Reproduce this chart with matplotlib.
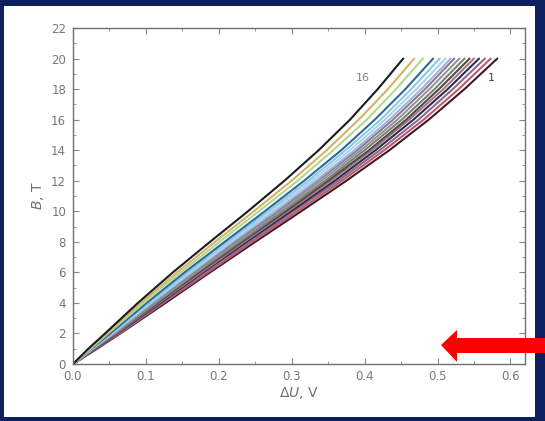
import matplotlib
matplotlib.use("Agg")
import matplotlib.pyplot as plt
from matplotlib.patches import Rectangle, Polygon
from matplotlib.ticker import MultipleLocator

# Magnetic induction levels (T)
B_levels = [0, 1, 2, 4, 6, 8, 10, 12, 14, 16, 18, 20]

# Voltage drop dU (V) for each curve at the B levels above
curve_1 = [0, 0.033, 0.065, 0.127, 0.188, 0.250, 0.313, 0.375, 0.434, 0.488, 0.537, 0.582]
curve_2 = [0, 0.032, 0.064, 0.124, 0.185, 0.246, 0.308, 0.369, 0.427, 0.481, 0.529, 0.573]
curve_3 = [0, 0.031, 0.062, 0.122, 0.181, 0.242, 0.303, 0.364, 0.421, 0.474, 0.521, 0.565]
curve_4 = [0, 0.031, 0.061, 0.120, 0.178, 0.238, 0.299, 0.359, 0.415, 0.467, 0.514, 0.557]
curve_5 = [0, 0.030, 0.060, 0.118, 0.176, 0.235, 0.295, 0.354, 0.410, 0.461, 0.508, 0.550]
curve_6 = [0, 0.030, 0.059, 0.116, 0.173, 0.232, 0.292, 0.350, 0.406, 0.457, 0.502, 0.544]
curve_7 = [0, 0.029, 0.058, 0.114, 0.170, 0.229, 0.288, 0.346, 0.400, 0.451, 0.496, 0.537]
curve_8 = [0, 0.028, 0.057, 0.112, 0.168, 0.225, 0.284, 0.341, 0.395, 0.445, 0.489, 0.530]
curve_9 = [0, 0.028, 0.056, 0.110, 0.165, 0.222, 0.280, 0.336, 0.390, 0.439, 0.483, 0.523]
curve_10 = [0, 0.027, 0.055, 0.108, 0.163, 0.219, 0.277, 0.333, 0.386, 0.434, 0.478, 0.518]
curve_11 = [0, 0.026, 0.053, 0.106, 0.160, 0.216, 0.273, 0.328, 0.380, 0.428, 0.471, 0.511]
curve_12 = [0, 0.026, 0.052, 0.104, 0.157, 0.212, 0.268, 0.323, 0.374, 0.422, 0.464, 0.503]
curve_13 = [0, 0.025, 0.051, 0.101, 0.153, 0.208, 0.263, 0.317, 0.368, 0.414, 0.456, 0.494]
curve_14 = [0, 0.024, 0.048, 0.097, 0.148, 0.201, 0.255, 0.308, 0.357, 0.403, 0.443, 0.480]
curve_15 = [0, 0.022, 0.046, 0.093, 0.143, 0.195, 0.248, 0.300, 0.348, 0.392, 0.432, 0.468]
curve_16 = [0, 0.021, 0.044, 0.089, 0.137, 0.188, 0.240, 0.290, 0.337, 0.380, 0.418, 0.453]

curves = [curve_1, curve_2, curve_3, curve_4, curve_5, curve_6, curve_7, curve_8,
          curve_9, curve_10, curve_11, curve_12, curve_13, curve_14, curve_15, curve_16]

colors = ['#3a1c2c', '#c25868', '#8c6a8c', '#2c2c4c', '#a87484', '#4c4c4c',
          '#7a8070', '#949494', '#8a7a9c', '#a4b4d4', '#acd4ec', '#8ec8e2',
          '#2a6a9a', '#b0d890', '#d4b464', '#1c1c1c']

x_ticks = [0.0, 0.1, 0.2, 0.3, 0.4, 0.5, 0.6]
x_tick_labels = ['0.0', '0.1', '0.2', '0.3', '0.4', '0.5', '0.6']
y_ticks = [0, 2, 4, 6, 8, 10, 12, 14, 16, 18, 20, 22]

W, H = 545, 421
fig = plt.figure(figsize=(W / 100, H / 100), dpi=100, facecolor='#0d1f5e')

# white panel (behind the axes)
fig.patches.append(Rectangle((4 / W, 1 - 417 / H), (535 - 4) / W, (417 - 6) / H,
                             transform=fig.transFigure, facecolor='white',
                             edgecolor='none', zorder=-10))

ax = fig.add_axes([73 / W, 1 - 364 / H, (525 - 73) / W, (364 - 28) / H], zorder=1)
ax.set_facecolor('white')

for c, col in zip(curves, colors):
    ax.plot(c, B_levels, color=col, lw=1.5, solid_capstyle='round',
            solid_joinstyle='round')

ax.set_xlim(0, 0.62)
ax.set_ylim(0, 22)
ax.set_xticks(x_ticks)
ax.set_xticklabels(x_tick_labels)
ax.set_yticks(y_ticks)
ax.xaxis.set_minor_locator(MultipleLocator(0.05))
ax.yaxis.set_minor_locator(MultipleLocator(1))
ax.tick_params(which='both', direction='in', top=True, right=True,
               color='#888888', labelcolor='#777777', labelsize=8.5)
ax.tick_params(axis='x', pad=4)
ax.tick_params(axis='y', pad=5)
ax.tick_params(which='major', length=4, width=0.8)
ax.tick_params(which='minor', length=2, width=0.6)
for s in ax.spines.values():
    s.set_color('#707070')
    s.set_linewidth(1.0)

ax.set_xlabel(r'$\Delta U$, V', color='#707070', fontsize=10, labelpad=2)
ax.set_ylabel(r'$B$, T', color='#707070', fontsize=10, labelpad=4)

ax.text(0.398, 18.7, '16', color='#7a8a6a', fontsize=8, ha='center', va='center')
ax.text(0.574, 18.7, '1', color='#404040', fontsize=8, ha='center', va='center')

# red arrow (decoration)
arrow_px = [(441, 345), (457, 330), (457, 338), (545, 338), (545, 353),
            (457, 353), (457, 362)]
fig.patches.append(Polygon([(x / W, 1 - y / H) for x, y in arrow_px], closed=True,
                           transform=fig.transFigure, facecolor='#ff0000',
                           edgecolor='none', zorder=5))

fig.savefig('out.png', dpi=100, facecolor=fig.get_facecolor())
